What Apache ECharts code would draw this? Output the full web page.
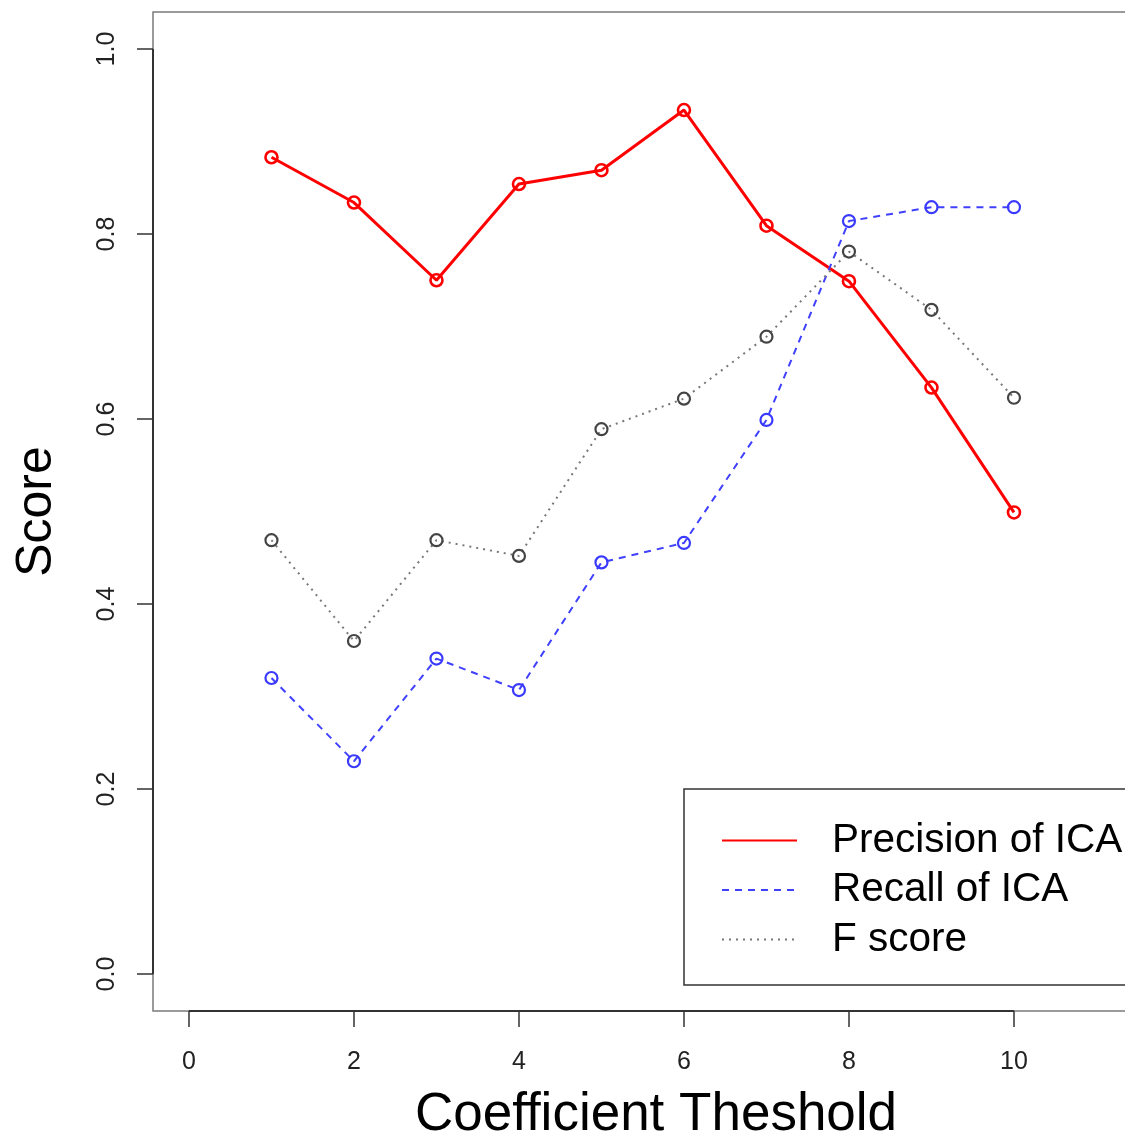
<!DOCTYPE html>
<html>
<head>
<meta charset="utf-8">
<script src="https://cdn.jsdelivr.net/npm/echarts@6/dist/echarts.min.js"></script>
<style>
html,body{margin:0;padding:0;overflow:hidden;background:#fff;}
#chart{width:1180px;height:1140px;}
</style>
</head>
<body>
<div id="chart"></div>
<script>
// ---- data ----
const thresholds = [1, 2, 3, 4, 5, 6, 7, 8, 9, 10];
const precision = [0.883, 0.834, 0.750, 0.854, 0.869, 0.934, 0.809, 0.749, 0.634, 0.499];
const recall    = [0.320, 0.230, 0.341, 0.307, 0.445, 0.466, 0.599, 0.814, 0.829, 0.829];
const fscore    = [0.469, 0.360, 0.469, 0.452, 0.589, 0.622, 0.689, 0.781, 0.718, 0.623];
const xTicks = [0, 2, 4, 6, 8, 10];
const yTicks = [0, 0.2, 0.4, 0.6, 0.8, 1.0];
const seriesNames = ['Precision of ICA', 'Recall of ICA', 'F score'];

const xMin = -0.436, xMax = 11.758;
const yMin = -0.04, yMax = 1.04;
const font = 'Liberation Sans, Arial, Helvetica, sans-serif';
const axisColor = '#333';

function pairs(vals){ return thresholds.map((t,i)=>[t, vals[i]]); }

const chart = echarts.init(document.getElementById('chart'), null, {renderer:'canvas'});

function mkSeries(name, vals, color, width, dash, symColor, bw){
  return {
    name: name, type: 'line', data: pairs(vals),
    symbol: 'circle', symbolSize: 12, showSymbol: true,
    lineStyle: {color: color, width: width, type: dash},
    itemStyle: {color: 'rgba(0,0,0,0)', borderColor: symColor, borderWidth: bw},
    emphasis: {disabled: true}, z: 3, clip: false
  };
}

const option = {
  animation: false,
  backgroundColor: '#fff',
  textStyle: {fontFamily: font},
  grid: {left: 153, top: 12, width: 1006, height: 999, show: true,
         outerBoundsMode: 'none', containLabel: false,
         borderColor: '#7a7a7a', borderWidth: 1.5, backgroundColor: 'transparent'},
  xAxis: {
    type: 'value', min: xMin, max: xMax,
    name: 'Coefficient Theshold', nameLocation: 'middle', nameGap: 78,
    nameTextStyle: {fontSize: 53, color: '#000', fontFamily: font},
    axisLine: {show: false, onZero: false},
    splitLine: {show: false},
    axisTick: {show: true, inside: false, length: 16, customValues: xTicks,
               lineStyle: {color: axisColor, width: 1.5}},
    axisLabel: {show: true, customValues: xTicks, margin: 39, fontSize: 25, color: '#222',
                fontFamily: font}
  },
  yAxis: {
    type: 'value', min: yMin, max: yMax,
    name: 'Score', nameLocation: 'middle', nameGap: 91, nameRotate: 90,
    nameTextStyle: {fontSize: 50, color: '#000', fontFamily: font},
    axisLine: {show: false, onZero: false},
    splitLine: {show: false},
    axisTick: {show: true, inside: false, length: 16, customValues: yTicks,
               lineStyle: {color: axisColor, width: 1.5}},
    axisLabel: {show: true, customValues: yTicks, margin: 33, fontSize: 25, color: '#222',
                rotate: 90, fontFamily: font, formatter: v => v.toFixed(1)}
  },
  legend: {
    data: seriesNames,
    orient: 'vertical', left: 684, top: 789,
    backgroundColor: '#fff',
    borderColor: '#333', borderWidth: 1.5, borderRadius: 0,
    padding: [31, 60, 25, 37],
    itemWidth: 75, itemHeight: 40, itemGap: 8.5,
    itemStyle: {color: 'rgba(0,0,0,0)', borderColor: 'rgba(0,0,0,0)', borderWidth: 0},
    textStyle: {fontSize: 40.5, color: '#000', fontFamily: font, padding: [0,0,0,30]},
    selectedMode: false
  },
  series: [
    mkSeries(seriesNames[0], precision, '#ff0000', 3, 'solid', '#ff0000', 2.6),
    mkSeries(seriesNames[1], recall, '#4040ff', 2, [7, 6], '#3a3aff', 2.2),
    mkSeries(seriesNames[2], fscore, '#777777', 2, [2, 5], '#444444', 2.2),
    { // x axis segment (R-style axis from first to last tick)
      type: 'line', name: '_xaxis', silent: true, symbol: 'none', clip: false, z: 4,
      data: [[xTicks[0], yMin], [xTicks[xTicks.length-1], yMin]],
      lineStyle: {color: axisColor, width: 2}
    },
    { // y axis segment
      type: 'line', name: '_yaxis', silent: true, symbol: 'none', clip: false, z: 4,
      data: [[xMin, yTicks[0]], [xMin, yTicks[yTicks.length-1]]],
      lineStyle: {color: axisColor, width: 2}
    }
  ]
};
chart.setOption(option);
</script>
</body>
</html>
